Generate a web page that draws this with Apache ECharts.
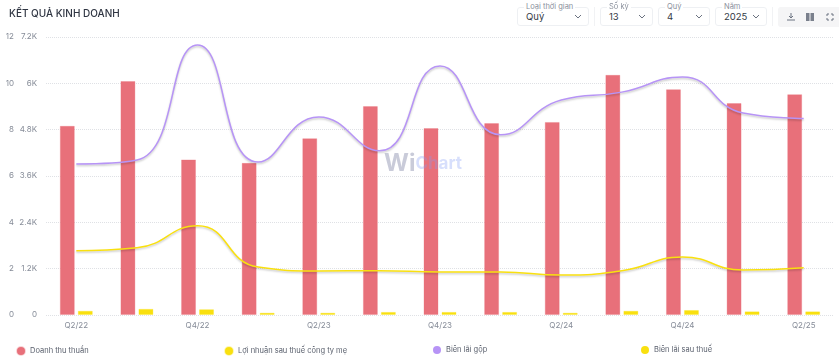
<!DOCTYPE html>
<html>
<head>
<meta charset="utf-8">
<title>Kết quả kinh doanh</title>
<script src="https://cdn.jsdelivr.net/npm/echarts@6/dist/echarts.min.js"></script>
<style>
html, body { margin: 0; padding: 0; background: #fff; font-family: Inter, "Noto Sans", sans-serif; }
#chart { position: absolute; left: 0; top: 0; width: 839px; height: 363px; }
.sel {
  position: absolute; top: 7px; height: 19px; box-sizing: border-box;
  border: 1px solid #eef0f3; border-radius: 3px; background: #fff;
  font-size: 9.5px; line-height: 18px; color: #343a46; padding-left: 8px;
}
.sel label {
  position: absolute; left: 6px; top: -6px; padding: 0 2px; background: #fff;
  font-size: 7.5px; line-height: 9px; color: #8a909c;
}
.sel svg { position: absolute; right: 6px; top: 6px; }
.sep { position: absolute; top: 7px; width: 1px; height: 19px; background: #f1f2f4; }
.tools { position: absolute; left: 778px; top: 7px; width: 61px; height: 20px; background: #f5f5f6; border-radius: 3px 0 0 3px; }
.tools svg { position: absolute; top: 5px; }
</style>
</head>
<body>
<div id="chart"></div>
<div class="sel" style="left:517px;width:72px"><label>Loại thời gian</label>Quý<svg width="8" height="6"><path d="M1 1l3 3 3-3" fill="none" stroke="#6b7280" stroke-width="1"/></svg></div>
<div class="sep" style="left:594px"></div>
<div class="sel" style="left:600px;width:53px"><label>Số kỳ</label>13<svg width="8" height="6"><path d="M1 1l3 3 3-3" fill="none" stroke="#6b7280" stroke-width="1"/></svg></div>
<div class="sel" style="left:658px;width:52px"><label>Quý</label>4<svg width="8" height="6"><path d="M1 1l3 3 3-3" fill="none" stroke="#6b7280" stroke-width="1"/></svg></div>
<div class="sel" style="left:715px;width:52px"><label>Năm</label>2025<svg width="8" height="6"><path d="M1 1l3 3 3-3" fill="none" stroke="#6b7280" stroke-width="1"/></svg></div>
<div class="sep" style="left:772px"></div>
<div class="tools">
  <svg style="left:8px" width="10" height="10"><path d="M5 1v5M3 4l2 2 2-2M1 8h8" fill="none" stroke="#6b7280" stroke-width="1"/></svg>
  <svg style="left:27px" width="10" height="10"><rect x="1" y="1" width="8" height="8" fill="#7a808c"/><path d="M5 1v8" stroke="#f5f5f6"/></svg>
  <svg style="left:47px" width="10" height="10"><path d="M1 3h2V1M7 1v2h2M1 7h2v2M7 9V7h2" fill="none" stroke="#6b7280" stroke-width="1"/></svg>
</div>
<script>
var categories = ['Q2/22', 'Q3/22', 'Q4/22', 'Q1/23', 'Q2/23', 'Q3/23', 'Q4/23', 'Q1/24', 'Q2/24', 'Q3/24', 'Q4/24', 'Q1/25', 'Q2/25']
// doanh thu va loi nhuan (ty dong)
var revenue = [4.9, 6.06, 4.03, 3.94, 4.58, 5.41, 4.84, 4.97, 5.0, 6.22, 5.85, 5.49, 5.72]
var netProfit = [0.11, 0.16, 0.15, 0.06, 0.06, 0.08, 0.08, 0.08, 0.06, 0.11, 0.13, 0.095, 0.095]
// bien lai (%)
var grossMargin = [6.52, 6.69, 11.65, 6.6, 8.55, 7.09, 10.75, 7.78, 9.28, 9.62, 10.27, 8.72, 8.48]
var netMargin = [2.77, 2.9, 3.85, 2.07, 1.9, 1.91, 1.86, 1.86, 1.73, 1.91, 2.5, 1.94, 2.04]

var names = ['Doanh thu thuần', 'Lợi nhuận sau thuế công ty mẹ', 'Biên lãi gộp', 'Biên lãi sau thuế']
var legendLeft = [11, 219, 428, 636]
var colors = ['#e8707a', '#f9e00f', '#b794f6', '#f9e00f']

var chart = echarts.init(document.getElementById('chart'))

function axisCommon() {
  return {
    type: 'value',
    position: 'left',
    axisLine: { show: false },
    axisTick: { show: false },
    axisLabel: { color: '#868c98', fontSize: 8, fontFamily: 'Inter', margin: 9 }
  }
}

function lineSeries(name, data, color) {
  return {
    name: name,
    type: 'line',
    yAxisIndex: 1,
    data: data,
    smooth: 0.5,
    symbol: 'none',
    z: 5,
    itemStyle: { color: color },
    lineStyle: {
      color: color, width: 1.5,
      shadowColor: 'rgba(0,0,0,0.22)', shadowBlur: 2, shadowOffsetY: 1.5
    }
  }
}

chart.setOption({
  animation: false,
  title: {
    text: 'KẾT QUẢ KINH DOANH', left: 9, top: 9, padding: 0,
    textStyle: { color: '#2f3542', fontSize: 10, fontWeight: 500, fontFamily: 'Inter' }
  },
  color: colors,
  legend: names.map(function(n, i) {
    return {
      data: [n], left: legendLeft[i], top: 341,
      icon: 'circle', itemWidth: 8, itemHeight: 8, itemGap: 4,
      textStyle: { color: '#5a606d', fontSize: 7.5, fontFamily: 'Inter' }
    }
  }),
  grid: { left: 46, right: 5, top: 37, bottom: 48 },
  xAxis: {
    type: 'category',
    data: categories,
    axisLine: { show: false },
    axisTick: { show: false },
    axisLabel: {
      color: '#868c98', fontSize: 8, fontFamily: 'Inter', margin: 7,
      interval: 1
    }
  },
  yAxis: [
    Object.assign(axisCommon(), {
      min: 0, max: 7.2, interval: 1.2,
      axisLabel: {
        color: '#868c98', fontSize: 8, fontFamily: 'Inter', margin: 9,
        formatter: function(v) { return v === 0 ? '0' : +v.toFixed(1) + 'K' }
      },
      splitLine: { lineStyle: { color: '#dfe1e5', type: 'dotted' } }
    }),
    Object.assign(axisCommon(), {
      min: 0, max: 12, interval: 2,
      offset: 23,
      splitLine: { show: false }
    })
  ],
  series: [
    {
      name: names[0], type: 'bar', data: revenue,
      barWidth: 15, barGap: '20%',
      itemStyle: { color: colors[0], borderColor: 'rgba(232,112,122,0.3)', borderWidth: 1 }
    },
    {
      name: names[1], type: 'bar', data: netProfit,
      barWidth: 15,
      itemStyle: { color: colors[1], borderColor: 'rgba(249,224,15,0.3)', borderWidth: 1 }
    },
    lineSeries(names[2], grossMargin, colors[2]),
    lineSeries(names[3], netMargin, colors[3])
  ],
  graphic: [{
    type: 'text', left: 384, top: 152, z: 100,
    style: {
      rich: {
        a: { fill: 'rgba(120,125,160,0.4)', font: 'bold 24px Inter' },
        b: { fill: 'rgba(130,155,245,0.32)', font: 'bold 17px Inter' }
      },
      text: '{a|Wi}{b|Chart}'
    }
  }]
})
</script>
</body>
</html>
